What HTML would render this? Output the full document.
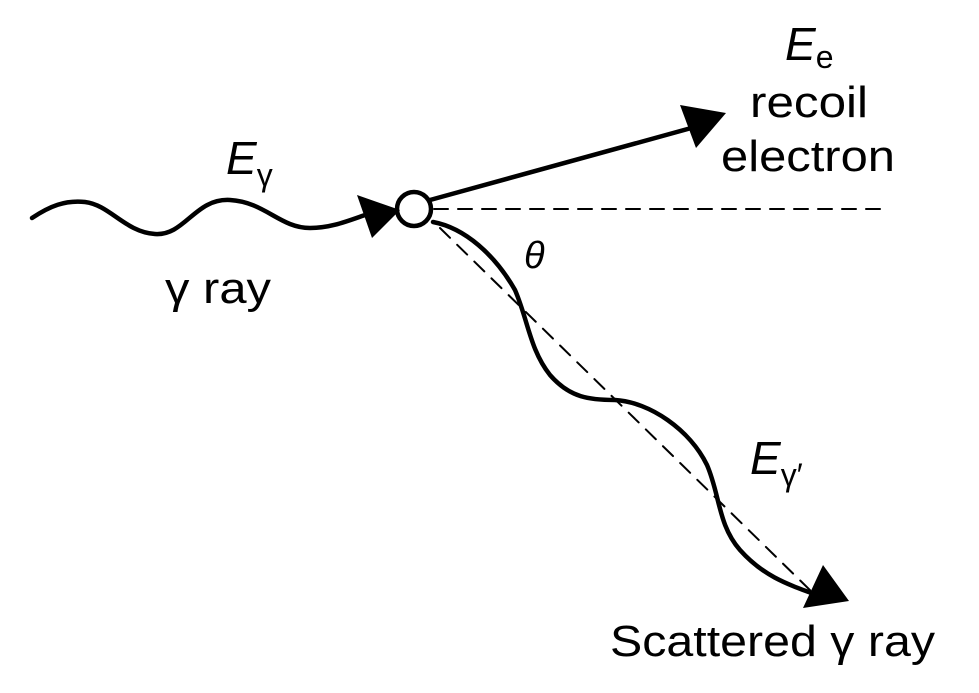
<!DOCTYPE html>
<html><head><meta charset="utf-8"><style>
html,body{margin:0;padding:0;background:#fff;}
svg{display:block;}
text{font-family:"Liberation Sans",sans-serif;fill:#000;}
</style></head><body>
<svg width="979" height="693" viewBox="0 0 979 693">
<g fill="none" stroke="#000" stroke-linecap="round">
<path stroke-width="4.5" d="M32,218 C50,206 65,200 85,202 C110,205 125,232 155,234 C185,236 195,198 230,200 C265,202 280,228 310,228 C330,228 345,222 365,215"/>
<line x1="434" y1="209" x2="885" y2="209" stroke-width="2" stroke-dasharray="14,10"/>
<line x1="440" y1="228" x2="815" y2="595" stroke-width="2" stroke-dasharray="14,10"/>
<line x1="430" y1="200" x2="695" y2="127" stroke-width="4.5"/>
<path stroke-width="4.5" d="M433,222 C465,228 495,255 515,290 C528,320 530,350 550,375 C570,398 590,400 615,400 C650,402 690,430 707,465 C720,495 718,525 740,550 C765,578 790,585 825,598"/>
<circle cx="414" cy="209" r="17" stroke-width="4.5" fill="#fff"/>
</g>
<polygon points="357,195 400,210 372,238" fill="#000"/>
<polygon points="680,105 726,113 696,148" fill="#000"/>
<polygon points="823,565 849,601 803,608" fill="#000"/>
<text x="226" y="174" font-size="46" font-style="italic">E<tspan font-size="32" font-style="normal" dy="12">γ</tspan></text>
<text x="165" y="303" font-size="44" textLength="106" lengthAdjust="spacingAndGlyphs">γ ray</text>
<text x="524" y="268" font-size="38" font-style="italic" font-family="Liberation Serif">θ</text>
<text x="785" y="60" font-size="46" font-style="italic">E<tspan font-size="32" font-style="normal" dy="8">e</tspan></text>
<text x="750" y="117" font-size="44" textLength="118" lengthAdjust="spacingAndGlyphs">recoil</text>
<text x="721" y="171" font-size="44" textLength="174" lengthAdjust="spacingAndGlyphs">electron</text>
<text x="750" y="474" font-size="46" font-style="italic">E<tspan font-size="32" font-style="normal" dy="12">γ′</tspan></text>
<text x="610" y="656" font-size="44" textLength="325" lengthAdjust="spacingAndGlyphs">Scattered γ ray</text>
</svg>
</body></html>
